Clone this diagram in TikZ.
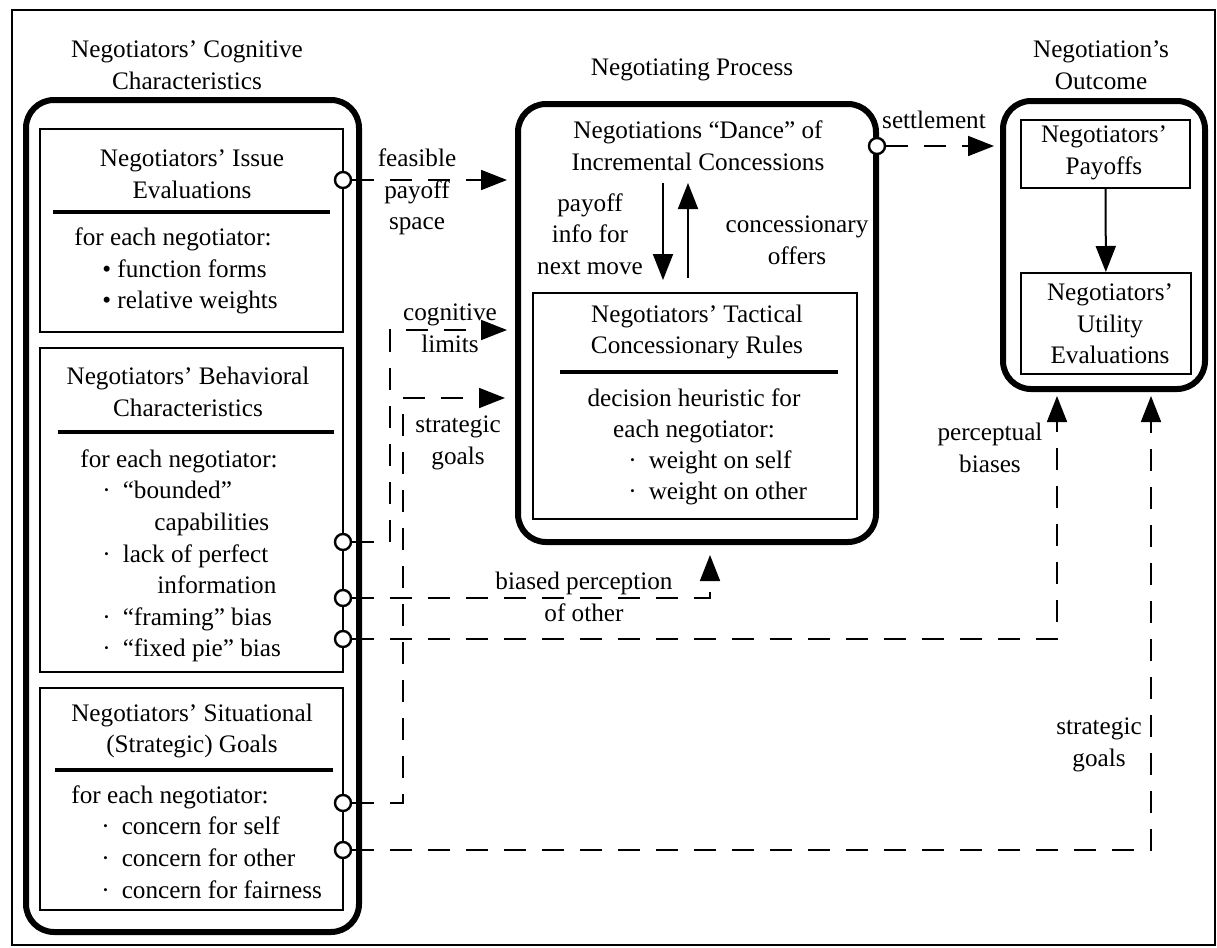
\documentclass[tikz,border=0pt]{standalone}
\usepackage{fontspec}
\setmainfont{Liberation Serif}
\usetikzlibrary{arrows.meta}
\usetikzlibrary{fit}
\usetikzlibrary{positioning}

\begin{document}
\begin{tikzpicture}[
    x=0.5pt, y=-0.5pt,
    font=\fontsize{12.6}{15.8}\selectfont,
    frame/.style={draw, line width=1.2pt, inner sep=0pt},
    panel/.style={draw, line width=3pt, rounded corners=14pt, inner sep=0pt},
    box/.style={draw, line width=1pt, inner sep=0pt},
    txt/.style={inner sep=0pt, align=center},
    list/.style={inner sep=0pt, align=left, anchor=west},
    rule/.style={line width=2pt},
    port/.style={circle, draw, fill=white, line width=1.2pt, minimum size=8pt, inner sep=0pt},
    tip/.style={-{Triangle[length=13pt,width=10pt]}},
    flow/.style={tip, line width=1pt},
    dlink/.style={tip, line width=0.9pt, dash pattern=on 11pt off 8pt}
  ]
  \useasboundingbox (0,0) rectangle (1217,948);
  \node[frame, fit={(12,10)(1215,945)}] (border) {};

  % left column
  \node[txt] (cogtitle) at (187,65) {Negotiators’ Cognitive\\Characteristics};
  \node[panel, fit={(26,100)(359,932)}] (cogpanel) {};

  \node[box, fit={(40,129)(343,332)}] (issue) {};
  \node[txt] (issuetitle) at (192,174) {Negotiators’ Issue\\Evaluations};
  \draw[rule] (53,212) -- (330,212);
  \node[list] (issuebody) at (74,271) {for each negotiator:\\
    \hspace*{14pt}• function forms\\
    \hspace*{14pt}• relative weights};

  \node[box, fit={(40,348)(343,672)}] (behav) {};
  \node[txt] (behavtitle) at (188,392) {Negotiators’ Behavioral\\Characteristics};
  \draw[rule] (58,432) -- (334,432);
  \node[list] (behavbody) at (80,556) {for each negotiator:\\
    \hspace*{11pt}·\hspace{6pt}“bounded”\\
    \hspace*{37pt}capabilities\\
    \hspace*{11pt}·\hspace{6pt}lack of perfect\\
    \hspace*{38.5pt}information\\
    \hspace*{11pt}·\hspace{6pt}“framing” bias\\
    \hspace*{11pt}·\hspace{6pt}“fixed pie” bias};

  \node[box, fit={(40,688)(343,910)}] (situ) {};
  \node[txt] (situtitle) at (192,731) {Negotiators’ Situational\\(Strategic) Goals};
  \draw[rule] (55,770) -- (333,770);
  \node[list] (situbody) at (71,842) {for each negotiator:\\
    \hspace*{15pt}·\hspace{6pt}concern for self\\
    \hspace*{15pt}·\hspace{6pt}concern for other\\
    \hspace*{15pt}·\hspace{6pt}concern for fairness};

  % middle column
  \node[txt] (proctitle) at (692,70) {Negotiating Process};
  \node[panel, fit={(518,104)(876,542)}] (procpanel) {};
  \node[txt] (dance) at (698,146) {Negotiations “Dance” of\\Incremental Concessions};
  \node[txt] (payinfo) at (590,234) {payoff\\info for\\next move};
  \node[txt] (offers) at (797,240) {concessionary\\offers};
  \coordinate (dnTop) at (663,183);
  \coordinate (dnEnd) at (663,280);
  \coordinate (upBot) at (688,278);
  \coordinate (upEnd) at (688,183);
  \draw[flow] (dnTop) -- (dnEnd);
  \draw[flow] (upBot) -- (upEnd);

  \node[box, fit={(533,293)(857,519)}] (tactic) {};
  \node[txt] (tactitle) at (697,332) {Negotiators’ Tactical\\Concessionary Rules};
  \draw[rule] (560,372) -- (838,372);
  \node[txt] (tacbody) at (694,416) {decision heuristic for\\each negotiator:};
  \node[list] (tacbullets) at (628,478) {·\hspace{6pt}weight on self\\
    ·\hspace{6pt}weight on other};

  % right column
  \node[txt] (outtitle) at (1101,65) {Negotiation’s\\Outcome};
  \node[panel, fit={(1003,101)(1205,389)}] (outpanel) {};
  \node[box, fit={(1021,120)(1190,188)}] (payoffs) {};
  \node[txt] (payofftext) at (1104,153) {Negotiators’\\Payoffs};
  \node[box, fit={(1021,273)(1191,374)}] (utility) {};
  \node[txt] (utiltext) at (1110,324) {Negotiators’\\Utility\\Evaluations};
  \draw[flow] (payoffs) -- (utility);

  % ports
  \node[port] (pIssue) at (343,180) {};
  \node[port] (pBound) at (343,542) {};
  \node[port] (pInfo) at (343,598) {};
  \node[port] (pFrame) at (343,639) {};
  \node[port] (pSelf) at (343,803) {};
  \node[port] (pOther) at (343,850) {};
  \node[port] (pSettle) at (877,146) {};

  % links
  \draw[dlink, shorten >=4pt] (pIssue) -- (pIssue -| procpanel.west);
  \node[txt] (feasible) at (417,192) {feasible\\payoff\\space};

  \draw[dlink, shorten >=3pt] (pSettle) -- (pSettle -| outpanel.west);
  \node[txt] (settle) at (934,120) {settlement};

  \coordinate (kLim) at (390,330);
  \draw[dlink, shorten >=4pt] (pBound) -| (kLim) -- (kLim -| procpanel.west);
  \node[txt] (cogn) at (450,328) {cognitive\\limits};

  \coordinate (kStrat) at (403,398);
  \draw[dlink, shorten >=5pt] (pSelf) -| (kStrat) -- (kStrat -| procpanel.west);
  \node[txt] (strat) at (458,443) {strategic\\goals};

  \coordinate (kBias) at (710,598);
  \draw[dlink, shorten >=5pt] (pInfo) -- (kBias) -- (kBias |- procpanel.south);
  \node[txt] (biased) at (584,597) {biased perception\\of other};

  \coordinate (kPerc) at (1057,639);
  \draw[dlink, shorten >=2pt] (pFrame) -- (kPerc) -- (kPerc |- outpanel.south);
  \node[txt] (percep) at (990,448) {perceptual\\biases};

  \coordinate (kGoal) at (1151,850);
  \draw[dlink, shorten >=2pt] (pOther) -- (kGoal) -- (kGoal |- outpanel.south);
  \node[txt] (strat2) at (1099,745) {strategic\\goals};
\end{tikzpicture}
\end{document}
